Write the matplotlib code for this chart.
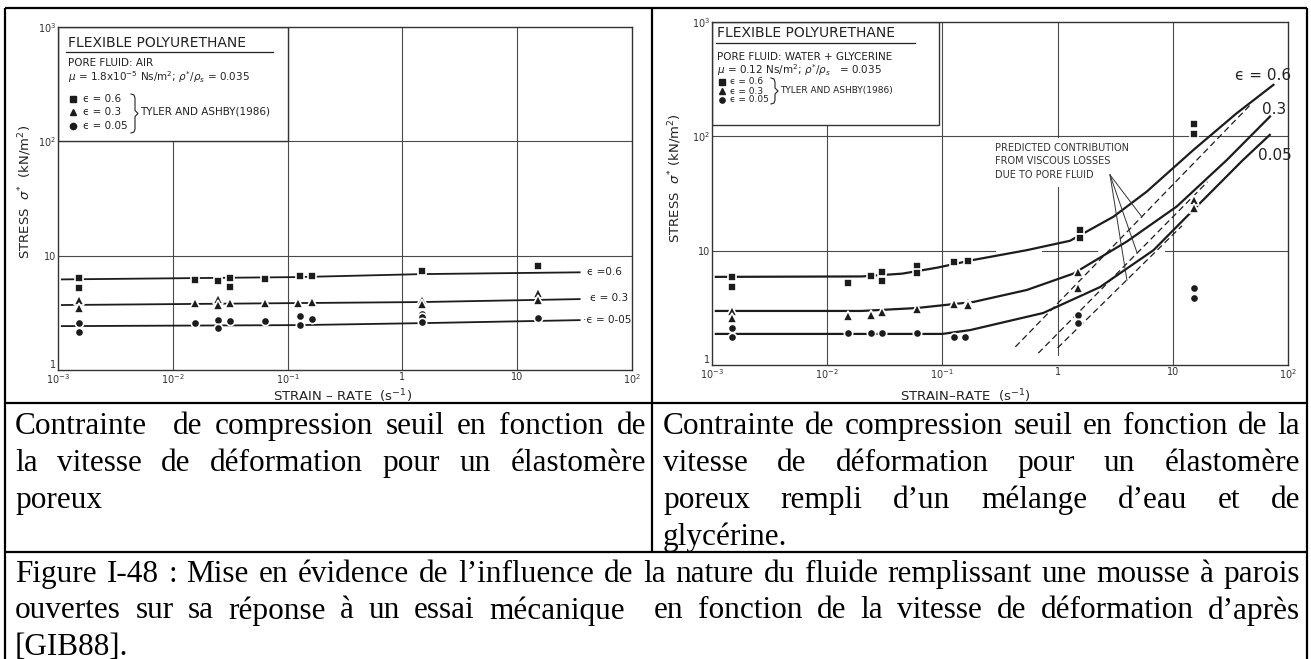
import numpy as np
import matplotlib.pyplot as plt
from matplotlib.patches import Rectangle

# values: strain-rate in 1/s, stress in kN/m2

# left panel, pore fluid = air (Tyler and Ashby 1986)
air_sq_rate = [0.00152, 0.00152, 0.0155, 0.0246, 0.0313, 0.0313, 0.063, 0.127, 0.162, 1.49, 15.2]
air_sq_stress = [6.36, 5.2, 6.1, 6.0, 6.4, 5.3, 6.2, 6.6, 6.6, 7.3, 8.1]
air_tri_rate = [0.00152, 0.00152, 0.0155, 0.0246, 0.0246, 0.0313, 0.063, 0.122, 0.162, 1.49, 1.49, 15.2, 15.2]
air_tri_stress = [4.1, 3.5, 3.85, 4.15, 3.7, 3.85, 3.85, 3.85, 3.9, 4.1, 3.8, 4.7, 4.1]
air_cir_rate = [0.00152, 0.00152, 0.0155, 0.0246, 0.0246, 0.0313, 0.063, 0.127, 0.127, 0.162, 1.49, 1.49, 1.49, 15.2]
air_cir_stress = [2.57, 2.15, 2.6, 2.75, 2.35, 2.68, 2.68, 2.96, 2.47, 2.8, 3.08, 2.9, 2.63, 2.85]

air_fit_rate = [0.00108, 0.127, 1.49, 35]
air_fit_06 = [6.2, 6.5, 6.9, 7.15]
air_fit_03 = [3.7, 3.85, 3.93, 4.17]
air_fit_005 = [2.42, 2.47, 2.57, 2.73]

# right panel, pore fluid = water + glycerine
gly_sq_rate = [0.00149, 0.00149, 0.0151, 0.024, 0.030, 0.030, 0.06, 0.06, 0.126, 0.166, 1.56, 1.56, 15.2, 15.2]
gly_sq_stress = [5.9, 4.8, 5.2, 6.0, 6.5, 5.4, 7.4, 6.4, 7.97, 8.1, 15.1, 12.9, 128, 105]
gly_tri_rate = [0.00149, 0.00149, 0.0151, 0.024, 0.030, 0.06, 0.126, 0.166, 0.166, 1.5, 1.5, 15.2, 15.2]
gly_tri_stress = [2.97, 2.58, 2.69, 2.74, 2.9, 3.09, 3.42, 3.56, 3.35, 6.5, 4.7, 27.8, 23.6]
gly_cir_rate = [0.00149, 0.00149, 0.0151, 0.024, 0.030, 0.06, 0.126, 0.158, 1.5, 1.5, 15.2, 15.2]
gly_cir_stress = [2.1, 1.76, 1.9, 1.9, 1.9, 1.9, 1.76, 1.76, 2.74, 2.33, 4.7, 3.86]

gly_c06_rate = [0.00108, 0.02, 0.045, 0.09, 0.186, 0.54, 1.28, 1.79, 3.05, 5.93, 15.1, 35.8, 74.7]
gly_c06_stress = [5.9, 5.95, 6.3, 7.1, 8.3, 10.1, 12.2, 14.7, 19.8, 32.8, 76, 159, 282]
gly_c03_rate = [0.00108, 0.02, 0.06, 0.186, 0.54, 1.37, 3.98, 10.8, 29.4, 69.8]
gly_c03_stress = [2.97, 2.97, 3.15, 3.56, 4.53, 6.3, 12.0, 24.3, 62, 149]
gly_c005_rate = [0.00108, 0.1, 0.174, 0.75, 2.33, 6.8, 17.2, 40.6, 69.5]
gly_c005_stress = [1.87, 1.87, 2.02, 2.85, 4.8, 10.1, 26, 62, 103]

# predicted viscous contribution (dashed) and the pointer lines
visc_rate = [[0.43, 47], [0.68, 20], [1.0, 12]]
visc_stress = [[1.44, 188], [1.27, 40], [1.41, 16.5]]
pointer_from = (2.85, 46)
pointer_rate = [5.4, 4.9, 4.0]
pointer_stress = [19.7, 9.55, 5.5]

rate_ticks = [1e-3, 1e-2, 1e-1, 1, 10, 100]
rate_labels = ['$10^{-3}$', '$10^{-2}$', '$10^{-1}$', '1', '10', '$10^{2}$']
stress_ticks = [1, 10, 100, 1000]
stress_labels = ['1', '10', '$10^{2}$', '$10^{3}$']

caption_left = ['Contrainte  de compression seuil en fonction de',
                'la vitesse de déformation pour un élastomère',
                'poreux']
caption_right = ['Contrainte de compression seuil en fonction de la',
                 'vitesse de déformation pour un élastomère',
                 'poreux rempli d\u2019un mélange d\u2019eau et de',
                 'glycérine.']
caption_fig = ['Figure I-48 : Mise en évidence de l\u2019influence de la nature du fluide remplissant une mousse à parois',
               'ouvertes sur sa réponse à un essai mécanique  en fonction de la vitesse de déformation d\u2019après',
               '[GIB88].']


W, H = 1311, 659
fig = plt.figure(figsize=(W / 100, H / 100), dpi=100)
ink = '#1c1c1c'
grid_kw = dict(color='#4a4a4a', lw=0.8, zorder=0.5)
small = dict(fontsize=7.5, color='#222', family='DejaVu Sans', va='center')
tiny = dict(small, fontsize=6.5)


def axes_px(x0, x1, ytop, ybot):
    return fig.add_axes([x0 / W, 1 - ybot / H, (x1 - x0) / W, (ybot - ytop) / H])


def setup(ax):
    ax.set_xscale('log')
    ax.set_yscale('log')
    ax.set_xlim(1e-3, 1e2)
    ax.set_ylim(1, 1e3)
    ax.minorticks_off()
    ax.set_xticks(rate_ticks, rate_labels)
    ax.set_yticks(stress_ticks, stress_labels)
    ax.tick_params(length=0, pad=1.5, labelsize=7, colors='#333')
    # the "1" of the stress axis sits just above the 10^-3 of the rate axis
    ax.get_yticklabels()[0].set_verticalalignment('bottom')
    for s in ax.spines.values():
        s.set_color('#333')
        s.set_linewidth(1.0)


def points(ax, x, y, m, ms):
    ax.plot(x, y, ls='none', marker=m, ms=ms, color=ink, mec='white', mew=1.2, zorder=3)


# ---- left chart ----
axl = axes_px(58, 632, 27, 370)
setup(axl)
for v in rate_ticks[1:-1]:
    axl.axvline(v, **grid_kw)
for v in stress_ticks[1:-1]:
    axl.axhline(v, **grid_kw)
axl.add_patch(Rectangle((1e-3, 100), 0.1 - 1e-3, 900, facecolor='white', edgecolor='#333', lw=1.0, zorder=1.5))
for fit in (air_fit_06, air_fit_03, air_fit_005):
    axl.plot(air_fit_rate, fit, color=ink, lw=1.3, zorder=2)
points(axl, air_sq_rate, air_sq_stress, 's', 6)
points(axl, air_tri_rate, air_tri_stress, '^', 6.5)
points(axl, air_cir_rate, air_cir_stress, 'o', 6)

# ---- right chart ----
axr = axes_px(712, 1288, 22, 365)
setup(axr)
for v in [1e-2, 1e-1, 10]:
    axr.axvline(v, **grid_kw)
axr.plot([1, 1], [1.22, 36], **grid_kw)
axr.plot([1, 1], [99, 1000], **grid_kw)
axr.axhline(100, **grid_kw)
for a, b in [(1e-3, 0.286), (0.73, 2.2), (8.5, 100)]:
    axr.plot([a, b], [10, 10], **grid_kw)
axr.add_patch(Rectangle((1e-3, 126), 0.093 - 1e-3, 874, facecolor='white', edgecolor='#333', lw=1.0, zorder=1.5))
axr.plot(gly_c06_rate, gly_c06_stress, color=ink, lw=1.6, zorder=2)
axr.plot(gly_c03_rate, gly_c03_stress, color=ink, lw=1.6, zorder=2)
axr.plot(gly_c005_rate, gly_c005_stress, color=ink, lw=1.6, zorder=2)
for xs, ys in zip(visc_rate, visc_stress):
    axr.plot(xs, ys, color=ink, lw=0.9, ls=(0, (5, 3)), zorder=2)
for px, py in zip(pointer_rate, pointer_stress):
    axr.plot([pointer_from[0], px], [pointer_from[1], py], color='#333', lw=0.7, zorder=2)
points(axr, gly_sq_rate, gly_sq_stress, 's', 6)
points(axr, gly_tri_rate, gly_tri_stress, '^', 6.5)
points(axr, gly_cir_rate, gly_cir_stress, 'o', 6)

# ---- overlay in pixel coordinates: table, captions, annotations ----
ov = fig.add_axes([0, 0, 1, 1])
ov.set_xlim(0, W)
ov.set_ylim(H, 0)
ov.axis('off')
ov.patch.set_visible(False)
ov.set_zorder(10)

rule = dict(color='black', lw=1.6, solid_capstyle='butt')
ov.plot([5, 1307], [8, 8], **rule)
ov.plot([5, 5], [8, H], **rule)
ov.plot([1307, 1307], [8, H], **rule)
ov.plot([652, 652], [8, 552], **rule)
ov.plot([5, 1307], [403, 403], **rule)
ov.plot([5, 1307], [552, 552], **rule)

# axis titles
lab = dict(fontsize=9.5, color='#222', ha='center', va='center')
ov.text(25, 192, 'STRESS  $\\sigma^{*}$  (kN/m$^{2}$)', rotation=90, **lab)
ov.text(675, 178, 'STRESS  $\\sigma^{*}$ (kN/m$^{2}$)', rotation=90, **lab)
ov.text(343, 396, 'STRAIN \u2013 RATE  (s$^{-1}$)', **lab)
ov.text(965, 396, 'STRAIN\u2013RATE  (s$^{-1}$)', **lab)


def brace(x, y0, y1):
    ym = (y0 + y1) / 2
    ov.plot([x - 4, x - 1, x, x, x + 3, x, x, x - 1, x - 4],
            [y0, y0 + 1, y0 + 4, ym - 3, ym, ym + 3, y1 - 4, y1 - 1, y1],
            color='#222', lw=0.8)


# left legend box
ov.text(68, 43, 'FLEXIBLE POLYURETHANE', fontsize=10, color='#222', va='center')
ov.plot([66, 273], [52, 52], color='#222', lw=0.9)
ov.text(68, 63, 'PORE FLUID: AIR', **small)
ov.text(68, 77, '$\\mu$ = 1.8x10$^{-5}$ Ns/m$^{2}$; $\\rho^{*}/\\rho_{s}$ = 0.035', **small)
for m, y, t in [('s', 99, '\u03f5 = 0.6'), ('^', 112, '\u03f5 = 0.3'), ('o', 126, '\u03f5 = 0.05')]:
    ov.plot([73], [y], marker=m, ms=4.5, color=ink, ls='none')
    ov.text(83, y, t, **small)
brace(135, 94, 133)
ov.text(140, 112, 'TYLER AND ASHBY(1986)', **small)

# right legend box
ov.text(717, 33, 'FLEXIBLE POLYURETHANE', fontsize=10, color='#222', va='center')
ov.plot([716, 915], [43, 43], color='#222', lw=0.9)
ov.text(717, 57, 'PORE FLUID: WATER + GLYCERINE', **small)
ov.text(717, 70, '$\\mu$ = 0.12 Ns/m$^{2}$; $\\rho^{*}/\\rho_{s}$   = 0.035', **small)
for m, y, t in [('s', 82, '\u03f5 = 0.6'), ('^', 91, '\u03f5 = 0.3'), ('o', 100, '\u03f5 = 0.05')]:
    ov.plot([722], [y], marker=m, ms=3.8, color=ink, ls='none')
    ov.text(730, y, t, **tiny)
brace(775, 78, 104)
ov.text(780, 91, 'TYLER AND ASHBY(1986)', **tiny)

# curve labels
ov.text(587, 272, '\u03f5 =0.6', **small)
ov.text(590, 298, '\u03f5 = 0.3', **small)
ov.text(583, 320, '\u00b7\u03f5 = 0-05', **small)
ov.text(1235, 75, '\u03f5 = 0.6', fontsize=11, color='#222', va='center')
ov.text(1262, 110, '0.3', fontsize=11, color='#222', va='center')
ov.text(1258, 155, '0.05', fontsize=11, color='#222', va='center')
for i, t in enumerate(['PREDICTED CONTRIBUTION', 'FROM VISCOUS LOSSES', 'DUE TO PORE FLUID']):
    ov.text(995, 148 + 13.5 * i, t, fontsize=7, color='#333', va='center')

# captions, justified like the word processor did
renderer = fig.canvas.get_renderer()
cap = dict(fontsize=22.5, family='Liberation Serif', color='black', va='baseline')


def caption(lines, x0, x1, y0, step):
    for i, line in enumerate(lines):
        y = y0 + i * step
        if i == len(lines) - 1:
            ov.text(x0, y, line, **cap)
            continue
        words = line.split(' ')
        arts = [ov.text(0, y, w, **cap) for w in words]
        widths = [a.get_window_extent(renderer).width if w else 0 for a, w in zip(arts, words)]
        gap = (x1 - x0 - sum(widths)) / (len(words) - 1)
        x = x0
        for a, wd in zip(arts, widths):
            a.set_x(x)
            x += wd + gap


caption(caption_left, 15, 646, 434, 37)
caption(caption_right, 663, 1300, 434, 37)
caption(caption_fig, 15, 1300, 582, 36.5)

fig.savefig('out.png', dpi=100, facecolor='white')
